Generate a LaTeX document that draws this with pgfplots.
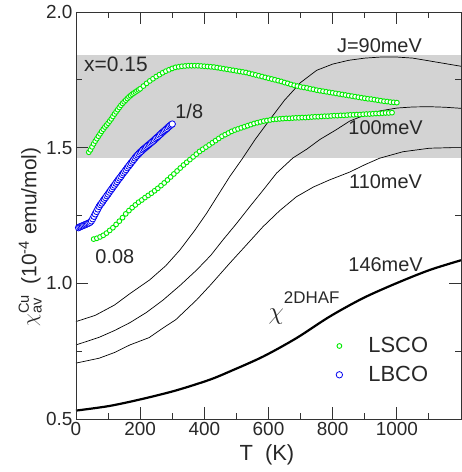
\documentclass[border=0pt]{standalone}
\usepackage{fontspec}
\setmainfont{Liberation Sans}
\usepackage{pgfplots}
\pgfplotsset{compat=1.18}
\definecolor{lsco}{RGB}{0,235,0}
\definecolor{lbco}{RGB}{0,0,240}
\definecolor{band}{RGB}{211,211,211}
\definecolor{txt}{RGB}{40,40,40}
\newcommand{\fs}[1]{\fontsize{#1}{#1}\selectfont}
\pgfplotsset{lgd/.style={legend image code/.code={%
  \draw[##1] plot coordinates {(0bp,0bp)};
  \path[draw=none, fill=none] (-6bp,0bp) (27bp,0bp);}}}

\begin{document}
\begin{tikzpicture}
\useasboundingbox (-76bp,-53bp) rectangle (386bp,419bp);
\begin{axis}[
  at={(0,0)}, anchor=south west,
  scale only axis, width=385bp, height=407bp,
  xmin=0, xmax=1200, ymin=0.5, ymax=2.0,
  xtick={0,200,...,1000}, minor xtick={100,300,...,1100},
  ytick={0.5,1.0,1.5,2.0}, minor ytick={0.75,1.25,1.75},
  tick align=inside, major tick length=12bp, minor tick length=6bp,
  axis line style={black!80, line width=0.9bp},
  every tick/.style={black!80, line width=0.9bp},
  tick label style={font=\fs{19}, text=txt},
  /pgf/number format/assume math mode=true,
  x tick label style={/pgf/number format/.cd, set thousands separator={}},
  y tick label style={/pgf/number format/.cd, fixed, fixed zerofill, precision=1},
  xlabel={T\hspace{0.55em}(K)},
  ylabel={$\chi^{\mathrm{Cu}}_{\mathrm{av}}$\hspace{0.5em}(10\textsuperscript{-4} emu/mol)},
  x label style={at={(axis description cs:0.496,-0.103)}, anchor=base, font=\fs{22}, text=txt},
  y label style={at={(axis description cs:-0.119,0.447)}, anchor=center, font=\fs{21}, text=txt},
  axis on top,
  legend style={draw=none, fill=none, font=\fs{22}, text=txt, inner sep=0pt,
    nodes={inner sep=2bp},
    at={(axis description cs:0.668,0.144)}, anchor=west, row sep=8bp},
  legend cell align=left,
]
\fill[band] (axis cs:0,1.462) rectangle (axis cs:1200,1.841);

% J = 90 meV
\addplot[black, line width=0.7bp, forget plot] coordinates {
(0,0.859) (60,0.882) (120,0.920) (168,0.962) (230,1.013) (280,1.065)
(324,1.123) (370,1.195) (407,1.258) (440,1.320) (479,1.393) (520,1.462)
(557,1.528) (600,1.597) (650,1.675) (700,1.740) (750,1.785) (800,1.808)
(850,1.822) (900,1.830) (950,1.834) (1000,1.834) (1050,1.830) (1100,1.820)
(1150,1.810) (1200,1.800)};
% J = 100 meV
\addplot[black, line width=0.7bp, forget plot] coordinates {
(0,0.773) (72,0.801) (120,0.826) (168,0.855) (220,0.893) (272,0.939)
(325,0.993) (376,1.049) (420,1.103) (458,1.160) (500,1.220) (542,1.283)
(585,1.346) (625,1.406) (676,1.462) (720,1.495) (760,1.530) (811,1.566)
(853,1.598) (900,1.620) (950,1.636) (1000,1.646) (1050,1.650) (1100,1.651)
(1150,1.649) (1200,1.645)};
% J = 110 meV
\addplot[black, line width=0.7bp, forget plot] coordinates {
(0,0.706) (72,0.724) (120,0.745) (168,0.773) (228,0.800) (272,0.836)
(311,0.866) (376,0.939) (420,0.995) (479,1.074) (530,1.140) (583,1.209)
(635,1.268) (687,1.319) (740,1.355) (790,1.381) (853,1.410) (900,1.437)
(946,1.461) (1019,1.485) (1102,1.498) (1200,1.501)};
% 2D HAF, J = 146 meV
\addplot[black, line width=2.2bp, smooth, tension=0.5, forget plot] coordinates {
(0,0.531) (104,0.548) (207,0.574) (311,0.605) (415,0.644) (479,0.675)
(583,0.730) (687,0.798) (790,0.877) (894,0.945) (998,1.000) (1102,1.049)
(1200,1.085)};

% LSCO x=0.15
\addplot[only marks, lgd, mark=*, mark size=2.4bp, mark options={draw=lsco, fill=white, line width=0.9bp}] coordinates {
(40,1.483) (45,1.492) (50,1.503) (55,1.514) (60,1.524) (65,1.533) (70,1.542)
(75,1.551) (80,1.560) (85,1.568) (90,1.576) (95,1.583) (100,1.590) (105,1.598)
(110,1.606) (115,1.615) (120,1.624) (125,1.632) (130,1.640) (135,1.648)
(140,1.656) (145,1.663) (150,1.669) (155,1.675) (160,1.681) (165,1.687)
(170,1.692) (175,1.697) (180,1.701) (185,1.705) (190,1.709) (195,1.713)
(200,1.717) (210,1.727) (220,1.737) (230,1.746) (240,1.754) (250,1.762)
(260,1.769) (270,1.776) (280,1.782) (290,1.787) (300,1.792) (310,1.796)
(320,1.798) (330,1.800) (340,1.801) (350,1.802) (360,1.802) (370,1.802)
(380,1.802) (390,1.801) (400,1.800) (410,1.799) (420,1.798) (430,1.797)
(440,1.795) (450,1.793) (460,1.791) (470,1.789) (480,1.787) (490,1.785)
(500,1.783) (510,1.781) (520,1.779) (530,1.777) (540,1.774) (550,1.771)
(560,1.768) (570,1.765) (580,1.762) (590,1.759) (600,1.756) (610,1.753)
(620,1.750) (630,1.747) (640,1.744) (650,1.740) (660,1.737) (670,1.733)
(680,1.730) (690,1.727) (700,1.724) (710,1.722) (720,1.720) (730,1.717)
(740,1.715) (750,1.712) (760,1.710) (770,1.708) (780,1.706) (790,1.704)
(800,1.702) (810,1.700) (820,1.698) (830,1.696) (840,1.694) (850,1.692)
(860,1.690) (870,1.688) (880,1.686) (890,1.684) (900,1.682) (910,1.680)
(920,1.679) (930,1.677) (940,1.675) (950,1.673) (960,1.671) (970,1.670)
(980,1.668) (990,1.667) (1000,1.666)};
\addlegendentry{LSCO}
% LSCO x=0.08
\addplot[only marks, mark=*, mark size=2.4bp, mark options={draw=lsco, fill=white, line width=0.9bp}, forget plot] coordinates {
(55,1.163) (65,1.166) (75,1.171) (85,1.177) (95,1.185) (105,1.195) (115,1.205)
(125,1.217) (135,1.229) (145,1.242) (155,1.256) (165,1.268) (175,1.279)
(185,1.289) (195,1.299) (205,1.307) (215,1.316) (225,1.324) (235,1.332)
(245,1.341) (255,1.350) (265,1.360) (275,1.370) (285,1.381) (295,1.392)
(305,1.403) (315,1.414) (325,1.425) (335,1.436) (345,1.446) (355,1.456)
(365,1.466) (375,1.476) (385,1.486) (395,1.494) (405,1.502) (415,1.510)
(425,1.518) (435,1.526) (445,1.534) (455,1.542) (465,1.548) (475,1.554)
(485,1.560) (495,1.565) (505,1.569) (515,1.573) (525,1.577) (535,1.581)
(545,1.585) (555,1.589) (565,1.592) (575,1.595) (585,1.598) (595,1.600)
(605,1.602) (615,1.604) (625,1.605) (635,1.606) (645,1.607) (655,1.608)
(665,1.608) (675,1.609) (685,1.610) (695,1.610) (705,1.611) (715,1.611)
(725,1.612) (735,1.613) (745,1.614) (755,1.614) (765,1.615) (775,1.616)
(785,1.616) (795,1.617) (805,1.618) (815,1.618) (825,1.619) (835,1.619)
(845,1.620) (855,1.621) (865,1.621) (875,1.622) (885,1.622) (895,1.623)
(905,1.624) (915,1.624) (925,1.625) (935,1.626) (945,1.626) (955,1.627)
(965,1.628) (975,1.628) (985,1.629)};
% LBCO x=1/8
\addplot[only marks, lgd, mark=*, mark size=3.2bp, mark options={draw=lbco, fill=white, line width=0.8bp}] coordinates {
(8,1.205) (12,1.208) (16,1.210) (20,1.212) (24,1.214) (28,1.216) (32,1.218)
(36,1.220) (40,1.222) (44,1.225) (48,1.230) (52,1.238) (56,1.247) (60,1.256)
(64,1.265) (68,1.274) (72,1.283) (76,1.290) (80,1.296) (84,1.303) (88,1.310)
(92,1.316) (96,1.323) (100,1.329) (104,1.336) (108,1.343) (112,1.349)
(116,1.356) (120,1.362) (124,1.369) (128,1.375) (132,1.382) (136,1.388)
(140,1.394) (144,1.401) (148,1.407) (152,1.413) (156,1.419) (160,1.426)
(164,1.432) (168,1.438) (172,1.444) (176,1.450) (180,1.456) (184,1.462)
(188,1.468) (192,1.473) (196,1.478) (200,1.483) (204,1.487) (208,1.492)
(212,1.496) (216,1.500) (220,1.504) (224,1.508) (228,1.512) (232,1.516)
(236,1.520) (240,1.524) (244,1.528) (248,1.533) (252,1.537) (256,1.541)
(260,1.546) (264,1.550) (268,1.555) (272,1.559) (276,1.563) (280,1.567)
(284,1.571) (288,1.576) (292,1.580) (296,1.584) (300,1.587)};
\addlegendentry{LBCO}

\node[anchor=base, font=\fs{21}, text=txt] at (axis cs:124.5,1.779) {x=0.15};
\node[anchor=base, font=\fs{20}, text=txt] at (axis cs:353,1.609) {1/8};
\node[anchor=base, font=\fs{20}, text=txt] at (axis cs:121,1.0715) {0.08};
\node[anchor=base, font=\fs{20}, text=txt] at (axis cs:946,1.849) {J=90meV};
\node[anchor=base, font=\fs{20}, text=txt] at (axis cs:965,1.547) {100meV};
\node[anchor=base, font=\fs{20}, text=txt] at (axis cs:965,1.348) {110meV};
\node[anchor=base, font=\fs{20}, text=txt] at (axis cs:965,1.042) {146meV};
\node[anchor=base west, inner sep=0pt, text=txt] at (axis cs:600,0.865)
  {\fs{30}$\chi$\raisebox{16bp}{\fs{17}2DHAF}};
\end{axis}
\end{tikzpicture}
\end{document}
